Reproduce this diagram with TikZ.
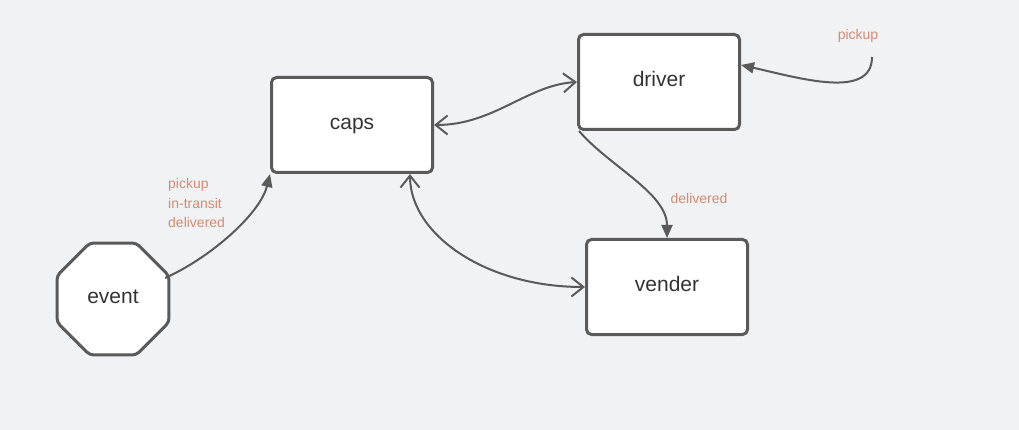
\documentclass[tikz,border=0pt]{standalone}
\usepackage{fontspec}
\setmainfont{Liberation Sans}
\usetikzlibrary{arrows.meta}
\definecolor{bg}{RGB}{241,242,244}
\definecolor{edge}{RGB}{90,90,90}
\definecolor{ink}{RGB}{51,51,51}
\definecolor{lbl}{RGB}{210,140,115}
\tikzset{
  state/.style={draw=edge, line width=3pt, fill=white, rounded corners=5pt,
    minimum width=161pt, minimum height=95pt, inner sep=0pt,
    text height=15pt, text depth=6pt,
    text=ink, font=\fontsize{21}{25}\selectfont},
  octa/.style={circle, minimum size=112pt, inner sep=0pt,
    text height=15pt, text depth=6pt,
    text=ink, font=\fontsize{21}{25}\selectfont},
  octaline/.style={draw=edge, line width=3pt, fill=white, rounded corners=4pt},
  link/.style={draw=edge, line width=2pt},
  solidtip/.style={-{Triangle[length=13pt,width=11pt]}},
  bothopen/.style={{Straight Barb[length=12pt,width=19pt]}-{Straight Barb[length=12pt,width=19pt]}},
  tag/.style={text=lbl, font=\fontsize{14}{19.5}\selectfont, inner sep=0pt}
}
\begin{document}
\begin{tikzpicture}[x=1pt,y=-1pt]
  \fill[bg] (0,0) rectangle (1019,430);
  \useasboundingbox (0,0) rectangle (1019,430);

  % event: flat-topped octagon outline around an anchoring node
  \draw[octaline, shift={(113,299)}] (22.5:60.6) -- (67.5:60.6) -- (112.5:60.6)
    -- (157.5:60.6) -- (202.5:60.6) -- (247.5:60.6) -- (292.5:60.6)
    -- (337.5:60.6) -- cycle;
  \node[octa] (ev) at (113,299) {event};

  % states
  \node[state] (caps)   at (352,125) {caps};
  \node[state] (driver) at (659,82)  {driver};
  \node[state] (vender) at (667,287) {vender};
  \coordinate (pk) at (872,57);

  % transitions
  \draw[link,solidtip] (ev.22) .. controls +(45,-20) and +(-10,40) .. (caps.south west);
  \draw[link,bothopen] (caps.east) .. controls +(60,0) and +(-50,3) .. (driver.west);
  \draw[link,bothopen] ([xshift=58pt]caps.south) .. controls +(0,60) and +(-100,0) .. (vender.west);
  \draw[link,solidtip] ([xshift=2pt]driver.south west) .. controls +(30,35) and +(0,-45) .. (vender.north);
  \draw[link,solidtip] (pk) .. controls +(0,43) and +(58,13) .. ([yshift=17pt]driver.east);

  % labels
  \node[tag, anchor=west, align=left] (evlbl) at (168,203) {pickup\\in-transit\\delivered};
  \node[tag] (pklbl) at (858,36) {pickup};
  \node[tag] (dllbl) at (699,198) {delivered};
\end{tikzpicture}
\end{document}
